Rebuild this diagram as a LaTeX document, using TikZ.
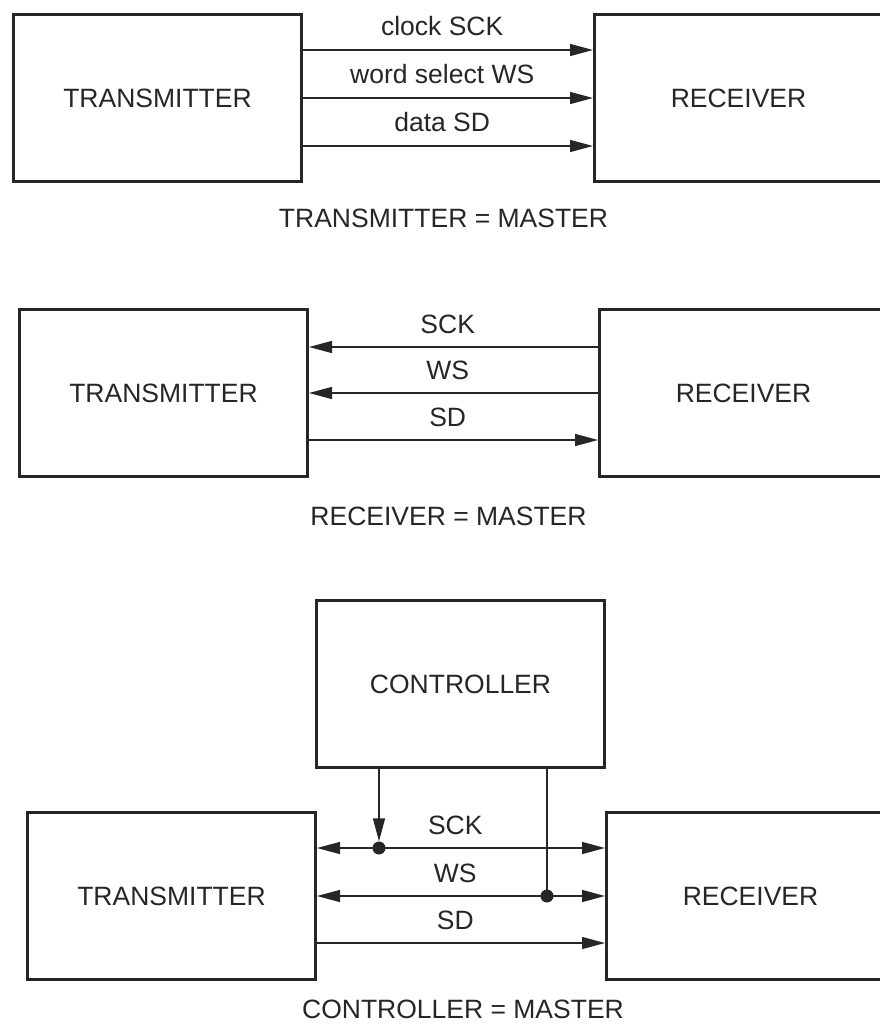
\documentclass[tikz,border=0pt]{standalone}
\usepackage{fontspec}
\setmainfont{Liberation Sans}
\usetikzlibrary{arrows.meta,positioning,calc}

\tikzset{
    block/.style={draw, line width=3pt, minimum width=288pt, minimum height=167pt, inner sep=0pt},
    sig/.style={line width=1.4pt, -{Triangle[length=23pt,width=12pt]}},
    bisig/.style={line width=1.4pt, {Triangle[length=23pt,width=12pt]}-{Triangle[length=23pt,width=12pt]}},
    wire/.style={line width=1.4pt},
    lbl/.style={anchor=base, yshift=14pt, pos=0.48, inner sep=0pt},
    caption/.style={anchor=base, inner sep=0pt},
    junction/.style={circle, fill, inner sep=0pt, minimum size=13pt}
}

\begin{document}
\begin{tikzpicture}[x=1pt, y=-1pt, color=black!85, font=\fontsize{26.5}{30}\selectfont]
    \useasboundingbox (0,0) rectangle (879,1024);

    % transmitter is master
    \node[block] (tx1) at (157.5,98) {TRANSMITTER};
    \node[block] (rx1) at (738.5,98) {RECEIVER};
    \path[sig]
        ([yshift=48pt]tx1.east) edge node[lbl] {clock SCK} ([yshift=48pt]rx1.west)
        (tx1.east) edge node[lbl] {word select WS} (rx1.west)
        ([yshift=-48pt]tx1.east) edge node[lbl] {data SD} ([yshift=-48pt]rx1.west);
    \node[caption] (cap1) at (443.5,228) {TRANSMITTER = MASTER};

    % receiver is master
    \node[block] (tx2) at (163.5,393) {TRANSMITTER};
    \node[block] (rx2) at (743.5,393) {RECEIVER};
    \path[sig]
        ([yshift=46pt]rx2.west) edge node[lbl, pos=0.52] {SCK} ([yshift=46pt]tx2.east)
        (rx2.west) edge node[lbl, pos=0.52] {WS} (tx2.east)
        ([yshift=-47pt]tx2.east) edge node[lbl] {SD} ([yshift=-47pt]rx2.west);
    \node[caption] (cap2) at (448.5,525) {RECEIVER = MASTER};

    % controller is master
    \node[block] (ctrl) at (460.5,684) {CONTROLLER};
    \node[block] (tx3) at (171.5,896) {TRANSMITTER};
    \node[block] (rx3) at (750.5,896) {RECEIVER};
    \path[bisig]
        ([yshift=48pt]tx3.east) edge node[lbl] {SCK} ([yshift=48pt]rx3.west)
        (tx3.east) edge node[lbl] {WS} (rx3.west);
    \path[sig]
        ([yshift=-47pt]tx3.east) edge node[lbl] {SD} ([yshift=-47pt]rx3.west);
    \node[junction] (sckdot) at (379,848) {};
    \node[junction] (wsdot) at (547,896) {};
    \draw[sig] (sckdot |- ctrl.south) -- (sckdot);
    \draw[wire] (wsdot |- ctrl.south) -- (wsdot.center);
    \node[caption] (cap3) at (463,1018) {CONTROLLER = MASTER};
\end{tikzpicture}
\end{document}
